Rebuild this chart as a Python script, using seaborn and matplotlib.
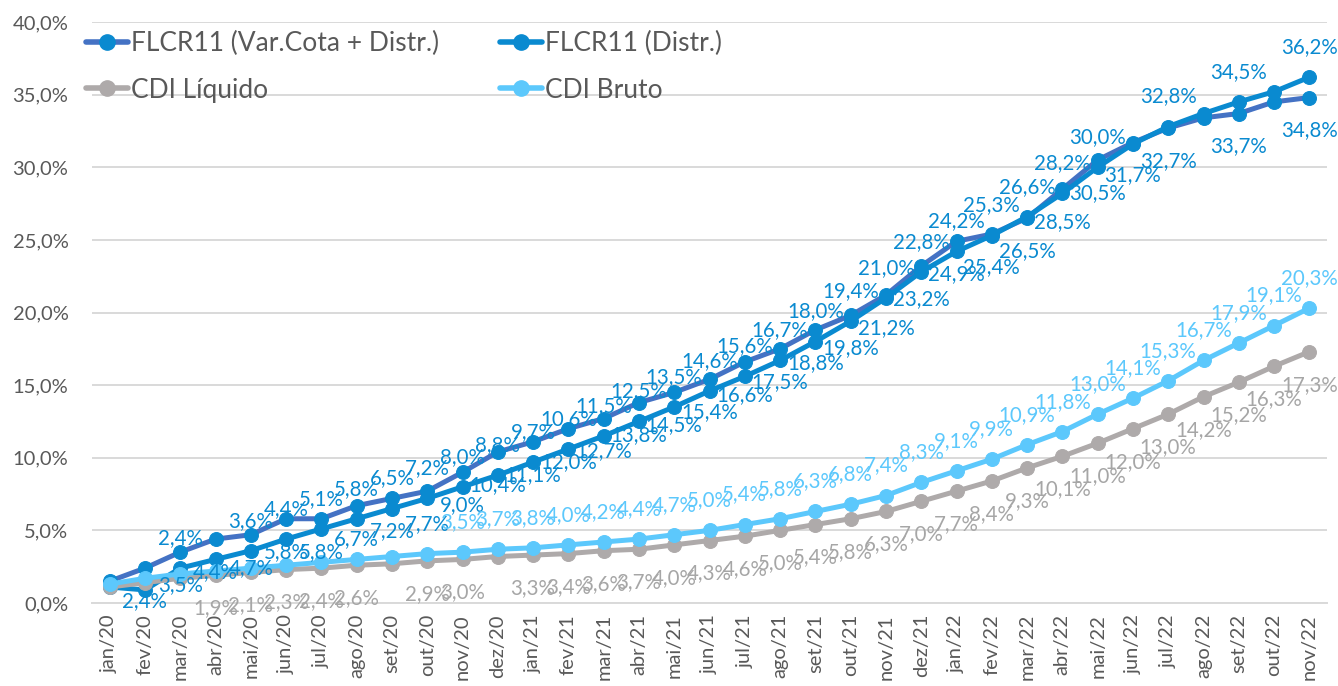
import matplotlib
matplotlib.use("Agg")
import matplotlib.pyplot as plt
import seaborn as sns
import pandas as pd
import numpy as np
from matplotlib.ticker import FixedLocator, FuncFormatter, MultipleLocator
from matplotlib.lines import Line2D

months = ["jan/20", "fev/20", "mar/20", "abr/20", "mai/20", "jun/20", "jul/20", "ago/20",
          "set/20", "out/20", "nov/20", "dez/20", "jan/21", "fev/21", "mar/21", "abr/21",
          "mai/21", "jun/21", "jul/21", "ago/21", "set/21", "out/21", "nov/21", "dez/21",
          "jan/22", "fev/22", "mar/22", "abr/22", "mai/22", "jun/22", "jul/22", "ago/22",
          "set/22", "out/22", "nov/22"]

var_cota = [1.5, 2.4, 3.5, 4.4, 4.7, 5.8, 5.8, 6.7, 7.2, 7.7, 9.0, 10.4, 11.1, 12.0, 12.7,
            13.8, 14.5, 15.4, 16.6, 17.5, 18.8, 19.8, 21.2, 23.2, 24.9, 25.4, 26.5, 28.5,
            30.5, 31.7, 32.7, 33.4, 33.7, 34.5, 34.8]
distr = [1.1, 0.9, 2.4, 3.0, 3.6, 4.4, 5.1, 5.8, 6.5, 7.2, 8.0, 8.8, 9.7, 10.6, 11.5, 12.5,
         13.5, 14.6, 15.6, 16.7, 18.0, 19.4, 21.0, 22.8, 24.2, 25.3, 26.6, 28.2, 30.0, 31.6,
         32.8, 33.7, 34.5, 35.2, 36.2]
cdi_liq = [1.1, 1.4, 1.7, 1.9, 2.1, 2.3, 2.4, 2.6, 2.7, 2.9, 3.0, 3.2, 3.3, 3.4, 3.6, 3.7,
           4.0, 4.3, 4.6, 5.0, 5.4, 5.8, 6.3, 7.0, 7.7, 8.4, 9.3, 10.1, 11.0, 12.0, 13.0,
           14.2, 15.2, 16.3, 17.3]
cdi_bruto = [1.3, 1.7, 2.0, 2.2, 2.4, 2.6, 2.8, 3.0, 3.2, 3.4, 3.5, 3.7, 3.8, 4.0, 4.2, 4.4,
             4.7, 5.0, 5.4, 5.8, 6.3, 6.8, 7.4, 8.3, 9.1, 9.9, 10.9, 11.8, 13.0, 14.1, 15.3,
             16.7, 17.9, 19.1, 20.3]

# points whose data label is not shown in the reference
var_cota_nolabel = [0, 31, 33]
distr_nolabel = [0, 1, 3, 29, 31, 33]
cdi_liq_nolabel = [0, 1, 2, 8, 11]
cdi_bruto_nolabel = list(range(0, 10))

names = ["FLCR11 (Var.Cota + Distr.)", "FLCR11 (Distr.)", "CDI Líquido", "CDI Bruto"]

C_SLATE = "#4472C4"
C_BLUE = "#0A8AD0"
C_GRAY = "#AEAAAA"
C_LIGHT = "#5CC8FC"
C_LBL_GRAY = "#A6A6A6"

sns.set_theme(style="white")
plt.rcParams["font.family"] = ["Lato", "DejaVu Sans"]

fig = plt.figure(figsize=(13.38, 6.86), dpi=100)
ax = fig.add_axes([92 / 1338, 1 - 603 / 686, (1327 - 92) / 1338, (603 - 22) / 686])

x = np.arange(len(months))
df = pd.DataFrame({"x": x, "var": var_cota, "distr": distr, "liq": cdi_liq, "bruto": cdi_bruto})

series = [
    ("var", C_SLATE, C_BLUE, C_BLUE, var_cota_nolabel, -33),
    ("distr", C_BLUE, C_BLUE, C_BLUE, distr_nolabel, 30),
    ("liq", C_GRAY, C_GRAY, C_LBL_GRAY, cdi_liq_nolabel, -33),
    ("bruto", C_LIGHT, C_LIGHT, C_LIGHT, cdi_bruto_nolabel, 30),
]

for i, (col, lc, mc, tc, nolab, dy) in enumerate(series):
    sns.lineplot(data=df, x="x", y=col, ax=ax, color=lc, linewidth=3.6, marker="o",
                 markersize=10, markerfacecolor=mc, markeredgecolor=mc, zorder=3 + i,
                 legend=False)

for i, (col, lc, mc, tc, nolab, dy) in enumerate(series):
    for xi, v in zip(x, df[col]):
        if xi in nolab:
            continue
        ax.annotate(f"{v:.1f}%".replace(".", ","), (xi, v), xytext=(0, dy),
                    textcoords="offset pixels", ha="center", va="center",
                    fontsize=14.8, color=tc, zorder=10)

ax.set_xlim(-0.5, len(months) - 0.5)
ax.set_ylim(0, 40)
ax.yaxis.set_major_locator(MultipleLocator(5))
ax.yaxis.set_major_formatter(FuncFormatter(lambda v, p: f"{v:.1f}%".replace(".", ",")))
ax.xaxis.set_major_locator(FixedLocator(x))
ax.set_xticklabels(months, rotation=90)
ax.xaxis.set_minor_locator(FixedLocator(np.arange(-0.5, len(months), 1.0)))
ax.tick_params(axis="x", which="major", length=0, pad=8, labelsize=14.5, labelcolor="#595959")
ax.tick_params(axis="x", which="minor", length=6, width=1.3, color="#D9D9D9", direction="out")
ax.tick_params(axis="y", length=0, pad=17, labelsize=14.5, labelcolor="#595959")
ax.set_xlabel("")
ax.set_ylabel("")
ax.grid(axis="y", color="#D9D9D9", linewidth=1.4)
ax.grid(axis="x", visible=False)
for s in ["left", "right", "top"]:
    ax.spines[s].set_visible(False)
ax.spines["bottom"].set_color("#D9D9D9")
ax.spines["bottom"].set_linewidth(1.4)
ax.set_axisbelow(True)

def handle(lc, mc):
    return Line2D([], [], color=lc, lw=4.0, marker="o", markersize=11,
                  markerfacecolor=mc, markeredgecolor=mc)

h_var = handle(C_SLATE, C_BLUE)
h_distr = handle(C_BLUE, C_BLUE)
h_liq = handle(C_GRAY, C_GRAY)
h_bruto = handle(C_LIGHT, C_LIGHT)
# column-wise fill: col 1 = Var.Cota, CDI Líquido ; col 2 = Distr., CDI Bruto
leg = fig.legend([h_var, h_liq, h_distr, h_bruto], [names[0], names[2], names[1], names[3]],
                 loc="upper left", bbox_to_anchor=(86 / 1338, 1 - 31 / 686),
                 ncol=2, frameon=False, fontsize=19, handlelength=1.6, handletextpad=0.1,
                 columnspacing=2.3, labelspacing=0.82, borderpad=0, borderaxespad=0)
for t in leg.get_texts():
    t.set_color("#595959")

fig.savefig("out.png", dpi=100)
